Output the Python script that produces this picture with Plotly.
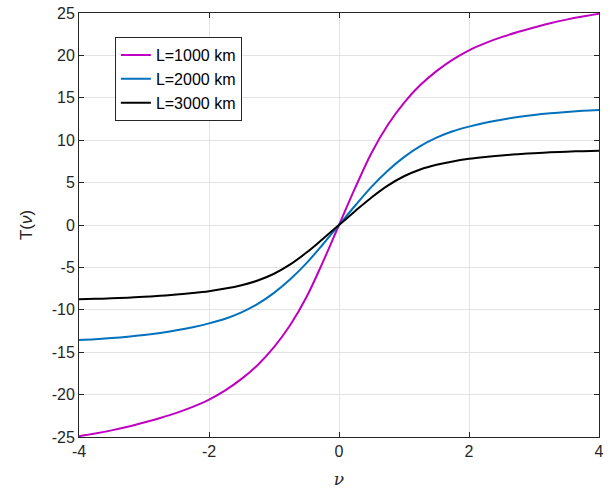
import plotly.graph_objects as go

# Data (antisymmetric curves)
nu_pos = [0.25, 0.5, 0.75, 1, 1.25, 1.5, 1.75, 2, 2.25, 2.5, 2.75, 3, 3.25, 3.5, 3.75, 4]

pos_1000 = [4.4, 8.5, 11.8, 14.4, 16.5, 18.15, 19.5, 20.6, 21.45, 22.15, 22.75, 23.3, 23.8, 24.22, 24.58, 24.9]
pos_2000 = [2.3, 4.5, 6.4, 8.0, 9.3, 10.3, 11.05, 11.6, 12.05, 12.42, 12.73, 12.98, 13.18, 13.34, 13.46, 13.55]
pos_3000 = [1.65, 3.25, 4.65, 5.75, 6.55, 7.1, 7.5, 7.8, 8.02, 8.2, 8.35, 8.47, 8.57, 8.65, 8.71, 8.75]

nu = [-v for v in reversed(nu_pos)] + [0] + nu_pos
T_1000 = [-v for v in reversed(pos_1000)] + [0] + pos_1000
T_2000 = [-v for v in reversed(pos_2000)] + [0] + pos_2000
T_3000 = [-v for v in reversed(pos_3000)] + [0] + pos_3000

series_names = ["L=1000 km", "L=2000 km", "L=3000 km"]
series_colors = ["#C000C0", "#0072BD", "#000000"]

x_tickvals = [-4, -2, 0, 2, 4]
x_ticktext = ["-4", "-2", "0", "2", "4"]
y_tickvals = [-25, -20, -15, -10, -5, 0, 5, 10, 15, 20, 25]
y_ticktext = ["-25", "-20", "-15", "-10", "-5", "0", "5", "10", "15", "20", "25"]

fig = go.Figure()
for name, ys, col in zip(series_names, [T_1000, T_2000, T_3000], series_colors):
    fig.add_trace(go.Scatter(x=nu, y=ys, mode="lines", name=name,
                             line=dict(color=col, width=2, shape="spline", smoothing=1.0)))

axis_common = dict(
    showline=True, linecolor="#262626", linewidth=1, mirror="ticks",
    ticks="inside", ticklen=5, tickcolor="#262626",
    showgrid=True, gridcolor="#E3E3E3", gridwidth=1, zeroline=False,
    automargin=False,
    tickfont=dict(family="Liberation Sans, Arial, sans-serif", size=16, color="#262626"),
)

fig.update_xaxes(range=[-4, 4], tickvals=x_tickvals, ticktext=x_ticktext,
                 title=dict(text="<i>ν</i>", font=dict(family="DejaVu Serif, serif", size=17, color="#262626"), standoff=18),
                 **axis_common)
fig.update_yaxes(range=[-25, 25], tickvals=y_tickvals, ticktext=y_ticktext,
                 title=dict(text="T(<i>ν</i>)", font=dict(family="Liberation Sans, Arial, sans-serif", size=17, color="#262626"), standoff=14),
                 **axis_common)

fig.update_layout(
    width=610, height=489,
    margin=dict(l=79, r=11, t=13, b=52),
    paper_bgcolor="white", plot_bgcolor="white",
    showlegend=True,
    legend=dict(x=0.069, y=0.943, xanchor="left", yanchor="top",
                bgcolor="white", bordercolor="#262626", borderwidth=1,
                font=dict(family="Liberation Sans, Arial, sans-serif", size=16, color="#000000"),
                tracegroupgap=0, itemwidth=30),
)

fig.write_html("out.html", config={"displayModeBar": False},
               post_script="document.body.style.margin='0';")
